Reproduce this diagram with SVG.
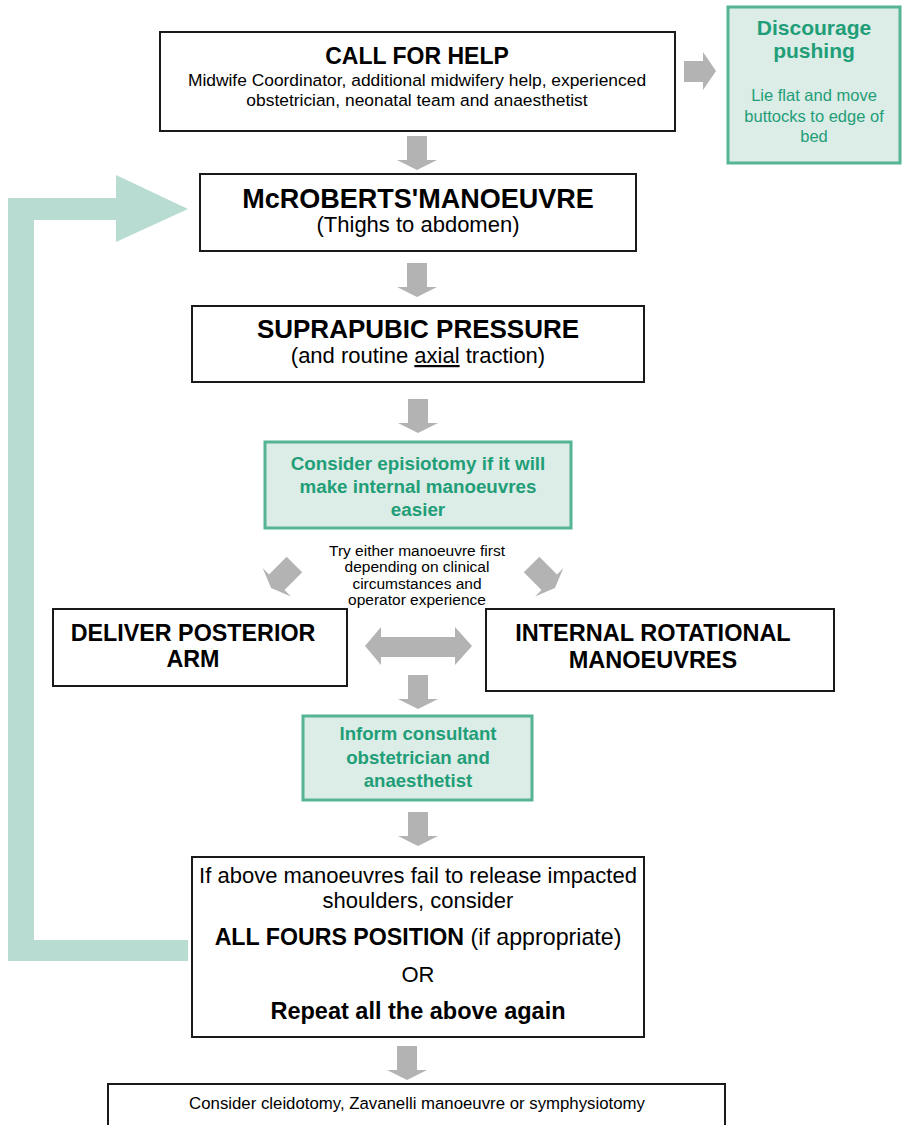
<svg xmlns="http://www.w3.org/2000/svg" width="902" height="1125" viewBox="0 0 902 1125">
<defs>
<style>
.box{fill:#fff;stroke:#1a1a1a;stroke-width:2}
.gbox{fill:#dcece6;stroke:#55b495;stroke-width:3}
.arr{fill:#b3b3b3}
.t{font-family:"Liberation Sans",Arial,sans-serif;fill:#000;text-anchor:middle}
.b{font-weight:bold}
.g{fill:#1f9e78;font-weight:bold}
.gr{fill:#1f9e78}
</style>
<path id="down" d="M-10,0 H10 V24 H20 L0,34 L-20,24 H-10 Z"/>
<path id="diag" d="M-11,-19 H11 V6 H20 L0,14 L-20,6 H-11 Z"/>
</defs>
<g id="connectors">
<path d="M8,961 V198 H116 V175 L188,209 L116,242 V220 H34 V940 H188 V961 Z" fill="#b8dcd1"/>
<path class="arr" d="M684,61 H703 V52 L716,71 L703,90 V82 H684 Z"/>
<use href="#down" class="arr" x="417" y="136"/>
<use href="#down" class="arr" x="417" y="263"/>
<use href="#down" class="arr" x="418" y="399"/>
<use href="#diag" class="arr" transform="translate(281,578) rotate(45)"/>
<use href="#diag" class="arr" transform="translate(545,578) rotate(-45)"/>
<path class="arr" d="M365,646 L381,627 V637 H455 V627 L472,646 L455,665 V657 H381 V665 Z"/>
<use href="#down" class="arr" x="418" y="675"/>
<use href="#down" class="arr" x="418" y="812"/>
<use href="#down" class="arr" x="407" y="1046"/>
</g>
<g id="call-for-help">
<rect class="box" x="160" y="32" width="515" height="99"/>
<text class="t b" x="417" y="64" font-size="23">CALL FOR HELP</text>
<text class="t" x="417" y="86" font-size="17.4">Midwife Coordinator, additional midwifery help, experienced</text>
<text class="t" x="417" y="106" font-size="17.4">obstetrician, neonatal team and anaesthetist</text>
</g>
<g id="discourage-pushing">
<rect class="gbox" x="728" y="7" width="172" height="156"/>
<text class="t g" x="814" y="35" font-size="21">Discourage</text>
<text class="t g" x="814" y="58" font-size="21">pushing</text>
<text class="t gr" x="814" y="101" font-size="16.5">Lie flat and move</text>
<text class="t gr" x="814" y="122" font-size="16.5">buttocks to edge of</text>
<text class="t gr" x="814" y="142" font-size="16.5">bed</text>
</g>
<g id="mcroberts">
<rect class="box" x="200" y="174" width="436" height="77"/>
<text class="t b" x="418" y="208" font-size="27">McROBERTS'MANOEUVRE</text>
<text class="t" x="418" y="232" font-size="22">(Thighs to abdomen)</text>
</g>
<g id="suprapubic">
<rect class="box" x="192" y="306" width="452" height="76"/>
<text class="t b" x="418" y="338" font-size="26">SUPRAPUBIC PRESSURE</text>
<text class="t" x="418" y="363" font-size="22">(and routine <tspan text-decoration="underline">axial</tspan> traction)</text>
</g>
<g id="episiotomy">
<rect class="gbox" x="265" y="442" width="306" height="86"/>
<text class="t g" x="418" y="470" font-size="18.8">Consider episiotomy if it will</text>
<text class="t g" x="418" y="493" font-size="18.8">make internal manoeuvres</text>
<text class="t g" x="418" y="516" font-size="18.8">easier</text>
</g>
<g id="try-either">
<text class="t" x="417" y="556" font-size="15.5">Try either manoeuvre first</text>
<text class="t" x="417" y="572" font-size="15.5">depending on clinical</text>
<text class="t" x="417" y="589" font-size="15.5">circumstances and</text>
<text class="t" x="417" y="605" font-size="15.5">operator experience</text>
</g>
<g id="posterior-arm">
<rect class="box" x="53" y="609" width="294" height="77"/>
<text class="t b" x="193" y="641" font-size="23.3">DELIVER POSTERIOR</text>
<text class="t b" x="193" y="667" font-size="23.3">ARM</text>
</g>
<g id="internal-rotational">
<rect class="box" x="486" y="609" width="348" height="82"/>
<text class="t b" x="653" y="641" font-size="23.5">INTERNAL ROTATIONAL</text>
<text class="t b" x="653" y="668" font-size="23.5">MANOEUVRES</text>
</g>
<g id="inform">
<rect class="gbox" x="303" y="716" width="229" height="84"/>
<text class="t g" x="418" y="740" font-size="18.6">Inform consultant</text>
<text class="t g" x="418" y="764" font-size="18.6">obstetrician and</text>
<text class="t g" x="418" y="787" font-size="18.6">anaesthetist</text>
</g>
<g id="if-above">
<rect class="box" x="192" y="857" width="452" height="180"/>
<text class="t" x="418" y="883" font-size="22">If above manoeuvres fail to release impacted</text>
<text class="t" x="418" y="908" font-size="22">shoulders, consider</text>
<text class="t" x="418" y="945" font-size="23.2"><tspan font-weight="bold">ALL FOURS POSITION</tspan> (if appropriate)</text>
<text class="t" x="418" y="982" font-size="22">OR</text>
<text class="t b" x="418" y="1019" font-size="23.5">Repeat all the above again</text>
</g>
<g id="final">
<rect class="box" x="108" y="1084" width="617" height="60"/>
<text class="t" x="417" y="1109" font-size="16.8">Consider cleidotomy, Zavanelli manoeuvre or symphysiotomy</text>
</g>
</svg>
